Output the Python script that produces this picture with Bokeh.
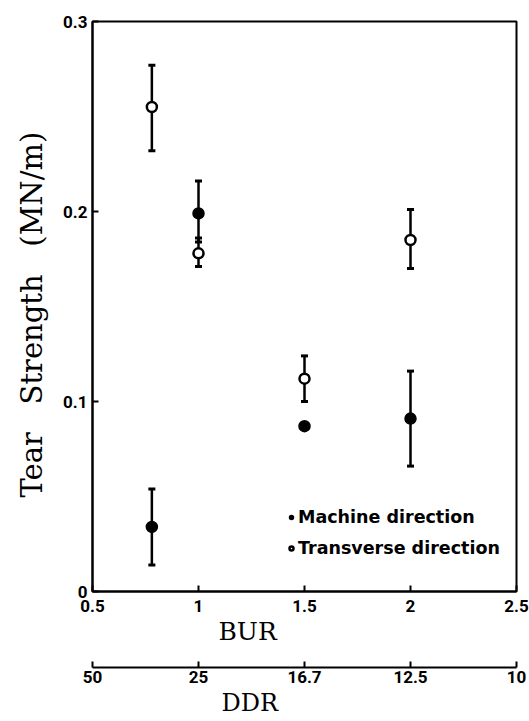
from bokeh.plotting import figure
from bokeh.layouts import column
from bokeh.models import (Range1d, FixedTicker, Whisker, TeeHead, ColumnDataSource,
                          Title, Legend, LegendItem)
from bokeh.embed import file_html
from bokeh.resources import INLINE

# Blow-up ratio positions and tear strength (MN/m) with error bounds
bur = [0.78, 1.0, 1.5, 2.0]
machine = [0.034, 0.199, 0.087, 0.091]
machine_lo = [0.014, 0.184, None, 0.066]
machine_hi = [0.054, 0.216, None, 0.116]
transverse = [0.255, 0.178, 0.112, 0.185]
transverse_lo = [0.232, 0.171, 0.100, 0.170]
transverse_hi = [0.277, 0.186, 0.124, 0.201]

# Axis ticks: BUR along the plot, matching draw-down ratio (DDR = 25 / BUR) underneath
bur_ticks = [0.5, 1.0, 1.5, 2.0, 2.5]
bur_tick_labels = ["0.5", "1", "1.5", "2", "2.5"]
ddr_tick_labels = ["50", "25", "16.7", "12.5", "10"]
y_ticks = [0, 0.1, 0.2, 0.3]
y_tick_labels = ["0", "0.1", "0.2", "0.3"]

TICK_FONT = "Roboto"
LABEL_FONT = "DejaVu Serif"
GAP = "\u00a0\u00a0\u00a0"


def style_axis(ax, standoff):
    ax.axis_line_width = 2
    ax.major_tick_line_width = 2
    ax.major_tick_in = 6
    ax.major_tick_out = 0
    ax.minor_tick_line_color = None
    ax.major_label_standoff = standoff
    ax.major_label_text_font = TICK_FONT
    ax.major_label_text_font_style = "bold"
    ax.major_label_text_font_size = "17px"
    ax.major_label_text_color = "black"


def side_title(text, size, offset, standoff):
    return Title(text=text, align="left", offset=offset, standoff=standoff,
                 text_font=LABEL_FONT, text_font_size=size, text_font_style="normal",
                 text_color="black")


p = figure(width=529, height=648, x_range=Range1d(0.5, 2.5), y_range=Range1d(0, 0.3),
           output_backend="svg", toolbar_location=None,
           min_border_left=92, min_border_right=13, min_border_top=21, min_border_bottom=57)
p.xgrid.visible = False
p.ygrid.visible = False
p.outline_line_color = "black"
p.outline_line_width = 2

style_axis(p.xaxis[0], 8)
style_axis(p.yaxis[0], 5)
p.xaxis[0].ticker = FixedTicker(ticks=bur_ticks)
p.xaxis[0].major_label_overrides = dict(zip(bur_ticks, bur_tick_labels))
p.yaxis[0].ticker = FixedTicker(ticks=y_ticks)
p.yaxis[0].major_label_overrides = dict(zip(y_ticks, y_tick_labels))

# Error bars
m_idx = [i for i, v in enumerate(machine_lo) if v is not None]
m_err = ColumnDataSource(dict(x=[bur[i] for i in m_idx],
                              lo=[machine_lo[i] for i in m_idx],
                              hi=[machine_hi[i] for i in m_idx]))
t_err = ColumnDataSource(dict(x=bur, lo=transverse_lo, hi=transverse_hi))
for src in (m_err, t_err):
    w = Whisker(source=src, base="x", lower="lo", upper="hi", line_width=2.5,
                line_color="black", level="underlay",
                upper_head=TeeHead(size=7, line_width=3, line_color="black"),
                lower_head=TeeHead(size=7, line_width=3, line_color="black"))
    p.add_layout(w)

m_src = ColumnDataSource(dict(x=bur, y=machine))
t_src = ColumnDataSource(dict(x=bur, y=transverse))
r_m = p.scatter("x", "y", source=m_src, marker="circle", size=11,
                fill_color="black", line_color="black", line_width=1.5)
r_t = p.scatter("x", "y", source=t_src, marker="circle", size=10,
                fill_color="white", line_color="black", line_width=2.5)

legend = Legend(items=[LegendItem(label="Machine direction", renderers=[r_m]),
                       LegendItem(label="Transverse direction", renderers=[r_t])],
                location=(194, 33), orientation="vertical",
                glyph_width=10, glyph_height=20, label_height=20, label_standoff=2,
                spacing=11, padding=0, margin=0,
                border_line_color=None, background_fill_alpha=0,
                label_text_font="DejaVu Sans", label_text_font_style="bold",
                label_text_font_size="17.5px", label_text_color="black")
p.add_layout(legend, "center")

p.add_layout(side_title("Tear" + GAP + "Strength" + GAP + "(MN/m)", "29px", 94, 23), "left")
p.add_layout(side_title("BUR", "25px", 126, 0), "below")

# Secondary scale strip for the draw-down ratio
q = figure(width=529, height=73, x_range=p.x_range, y_range=Range1d(0, 1),
           output_backend="svg", toolbar_location=None, y_axis_location=None,
           min_border_left=92, min_border_right=13, min_border_top=18, min_border_bottom=54)
q.xgrid.visible = False
q.ygrid.visible = False
q.outline_line_color = None
style_axis(q.xaxis[0], 3)
q.xaxis[0].ticker = FixedTicker(ticks=bur_ticks)
q.xaxis[0].major_label_overrides = dict(zip(bur_ticks, ddr_tick_labels))
q.add_layout(side_title("DDR", "24px", 129, 2), "below")

layout = column(p, q, spacing=0)
open("out.html", "w").write(file_html(layout, INLINE))
